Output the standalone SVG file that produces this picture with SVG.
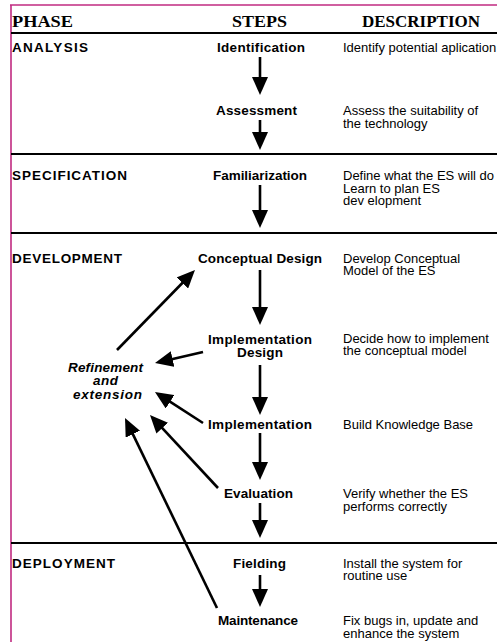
<svg xmlns="http://www.w3.org/2000/svg" width="497" height="642" viewBox="0 0 497 642">
<style>
.hdr{font-family:"Liberation Serif","Times New Roman",serif;font-weight:bold;font-size:17px;fill:#000}
.ph{font-family:"Liberation Sans",Arial,sans-serif;font-weight:bold;font-size:13.5px;fill:#000}
.st{font-family:"Liberation Sans",Arial,sans-serif;font-weight:bold;font-size:13.5px;fill:#000}
.ds{font-family:"Liberation Sans",Arial,sans-serif;font-size:13px;fill:#000}
.rf{font-family:"Liberation Sans",Arial,sans-serif;font-weight:bold;font-style:italic;font-size:13.5px;fill:#000}
.sep{stroke:#000;stroke-width:2;fill:none}
.frame{stroke:#c02a80;stroke-width:1.6;fill:none}
.arr{stroke:#000;stroke-width:2.6;fill:none;marker-end:url(#ah)}
</style>
<defs>
<marker id="ah" markerUnits="userSpaceOnUse" markerWidth="18" markerHeight="16" refX="2" refY="8" orient="auto" viewBox="0 0 18 16">
<path d="M0,0 L18,8 L0,16 Z" fill="#000"/>
</marker>
</defs>
<rect width="497" height="642" fill="#fff"/>
<g id="frame">
<line class="frame" x1="10" y1="5" x2="497" y2="5"/>
<line class="frame" x1="11" y1="5" x2="11" y2="642"/>
</g>
<g id="separators">
<line class="sep" x1="11" y1="33" x2="497" y2="33"/>
<line class="sep" x1="11" y1="154" x2="497" y2="154"/>
<line class="sep" x1="11" y1="233" x2="497" y2="233"/>
<line class="sep" x1="11" y1="543" x2="497" y2="543"/>
</g>
<g id="header">
<text class="hdr" x="12" y="27" textLength="61" lengthAdjust="spacingAndGlyphs">PHASE</text>
<text class="hdr" x="232" y="27" textLength="55" lengthAdjust="spacingAndGlyphs">STEPS</text>
<text class="hdr" x="362" y="27" textLength="118" lengthAdjust="spacingAndGlyphs">DESCRIPTION</text>
</g>
<g id="phases">
<text class="ph" x="12" y="52" textLength="76" lengthAdjust="spacing">ANALYSIS</text>
<text class="ph" x="12" y="180" textLength="115" lengthAdjust="spacing">SPECIFICATION</text>
<text class="ph" x="12" y="263" textLength="110" lengthAdjust="spacing">DEVELOPMENT</text>
<text class="ph" x="12" y="568" textLength="103" lengthAdjust="spacing">DEPLOYMENT</text>
</g>
<g id="node-identification"><text class="st" x="217" y="52" textLength="88" lengthAdjust="spacing">Identification</text></g>
<g id="node-assessment"><text class="st" x="216" y="115" textLength="81" lengthAdjust="spacing">Assessment</text></g>
<g id="node-familiarization"><text class="st" x="213" y="180" textLength="94" lengthAdjust="spacing">Familiarization</text></g>
<g id="node-conceptual-design"><text class="st" x="198" y="263" textLength="124" lengthAdjust="spacing">Conceptual Design</text></g>
<g id="node-implementation-design">
<text class="st" x="208" y="344" textLength="104" lengthAdjust="spacing">Implementation</text>
<text class="st" x="237" y="357" textLength="46" lengthAdjust="spacing">Design</text>
</g>
<g id="node-implementation"><text class="st" x="208" y="429" textLength="104" lengthAdjust="spacing">Implementation</text></g>
<g id="node-evaluation"><text class="st" x="224" y="498" textLength="69" lengthAdjust="spacing">Evaluation</text></g>
<g id="node-fielding"><text class="st" x="233" y="568" textLength="53" lengthAdjust="spacing">Fielding</text></g>
<g id="node-maintenance"><text class="st" x="218" y="625" textLength="80" lengthAdjust="spacing">Maintenance</text></g>
<g id="node-refinement">
<text class="rf" x="68" y="372" textLength="75" lengthAdjust="spacing">Refinement</text>
<text class="rf" x="93" y="385" textLength="25" lengthAdjust="spacing">and</text>
<text class="rf" x="73" y="399" textLength="69" lengthAdjust="spacing">extension</text>
</g>
<g id="descriptions">
<text class="ds" x="343" y="52">Identify potential aplication</text>
<text class="ds" x="343" y="115">Assess the suitability of</text>
<text class="ds" x="343" y="128">the technology</text>
<text class="ds" x="343" y="180">Define what the ES will do</text>
<text class="ds" x="343" y="193">Learn to plan ES</text>
<text class="ds" x="343" y="205">dev elopment</text>
<text class="ds" x="343" y="263">Develop Conceptual</text>
<text class="ds" x="343" y="275">Model of the ES</text>
<text class="ds" x="343" y="343">Decide how to implement</text>
<text class="ds" x="343" y="355">the conceptual model</text>
<text class="ds" x="343" y="429">Build Knowledge Base</text>
<text class="ds" x="343" y="498">Verify whether the ES</text>
<text class="ds" x="343" y="511">performs correctly</text>
<text class="ds" x="343" y="568">Install the system for</text>
<text class="ds" x="343" y="580">routine use</text>
<text class="ds" x="343" y="625">Fix bugs in, update and</text>
<text class="ds" x="343" y="638">enhance the system</text>
</g>
<g id="connectors">
<line class="arr" x1="260" y1="57" x2="260" y2="79"/>
<line class="arr" x1="260" y1="120" x2="260" y2="134"/>
<line class="arr" x1="260" y1="185" x2="260" y2="212"/>
<line class="arr" x1="260" y1="270" x2="260" y2="309"/>
<line class="arr" x1="260" y1="365" x2="260" y2="399"/>
<line class="arr" x1="260" y1="433" x2="260" y2="464"/>
<line class="arr" x1="260" y1="503" x2="260" y2="522"/>
<line class="arr" x1="260" y1="575" x2="260" y2="591"/>
<line class="arr" x1="117" y1="350" x2="183.8" y2="281.5"/>
<line class="arr" x1="203" y1="352" x2="170.6" y2="359.4"/>
<line class="arr" x1="203" y1="423" x2="168.4" y2="400.7"/>
<line class="arr" x1="218" y1="488" x2="160.9" y2="426.7"/>
<line class="arr" x1="217" y1="608" x2="132" y2="432.4"/>
</g>
</svg>
